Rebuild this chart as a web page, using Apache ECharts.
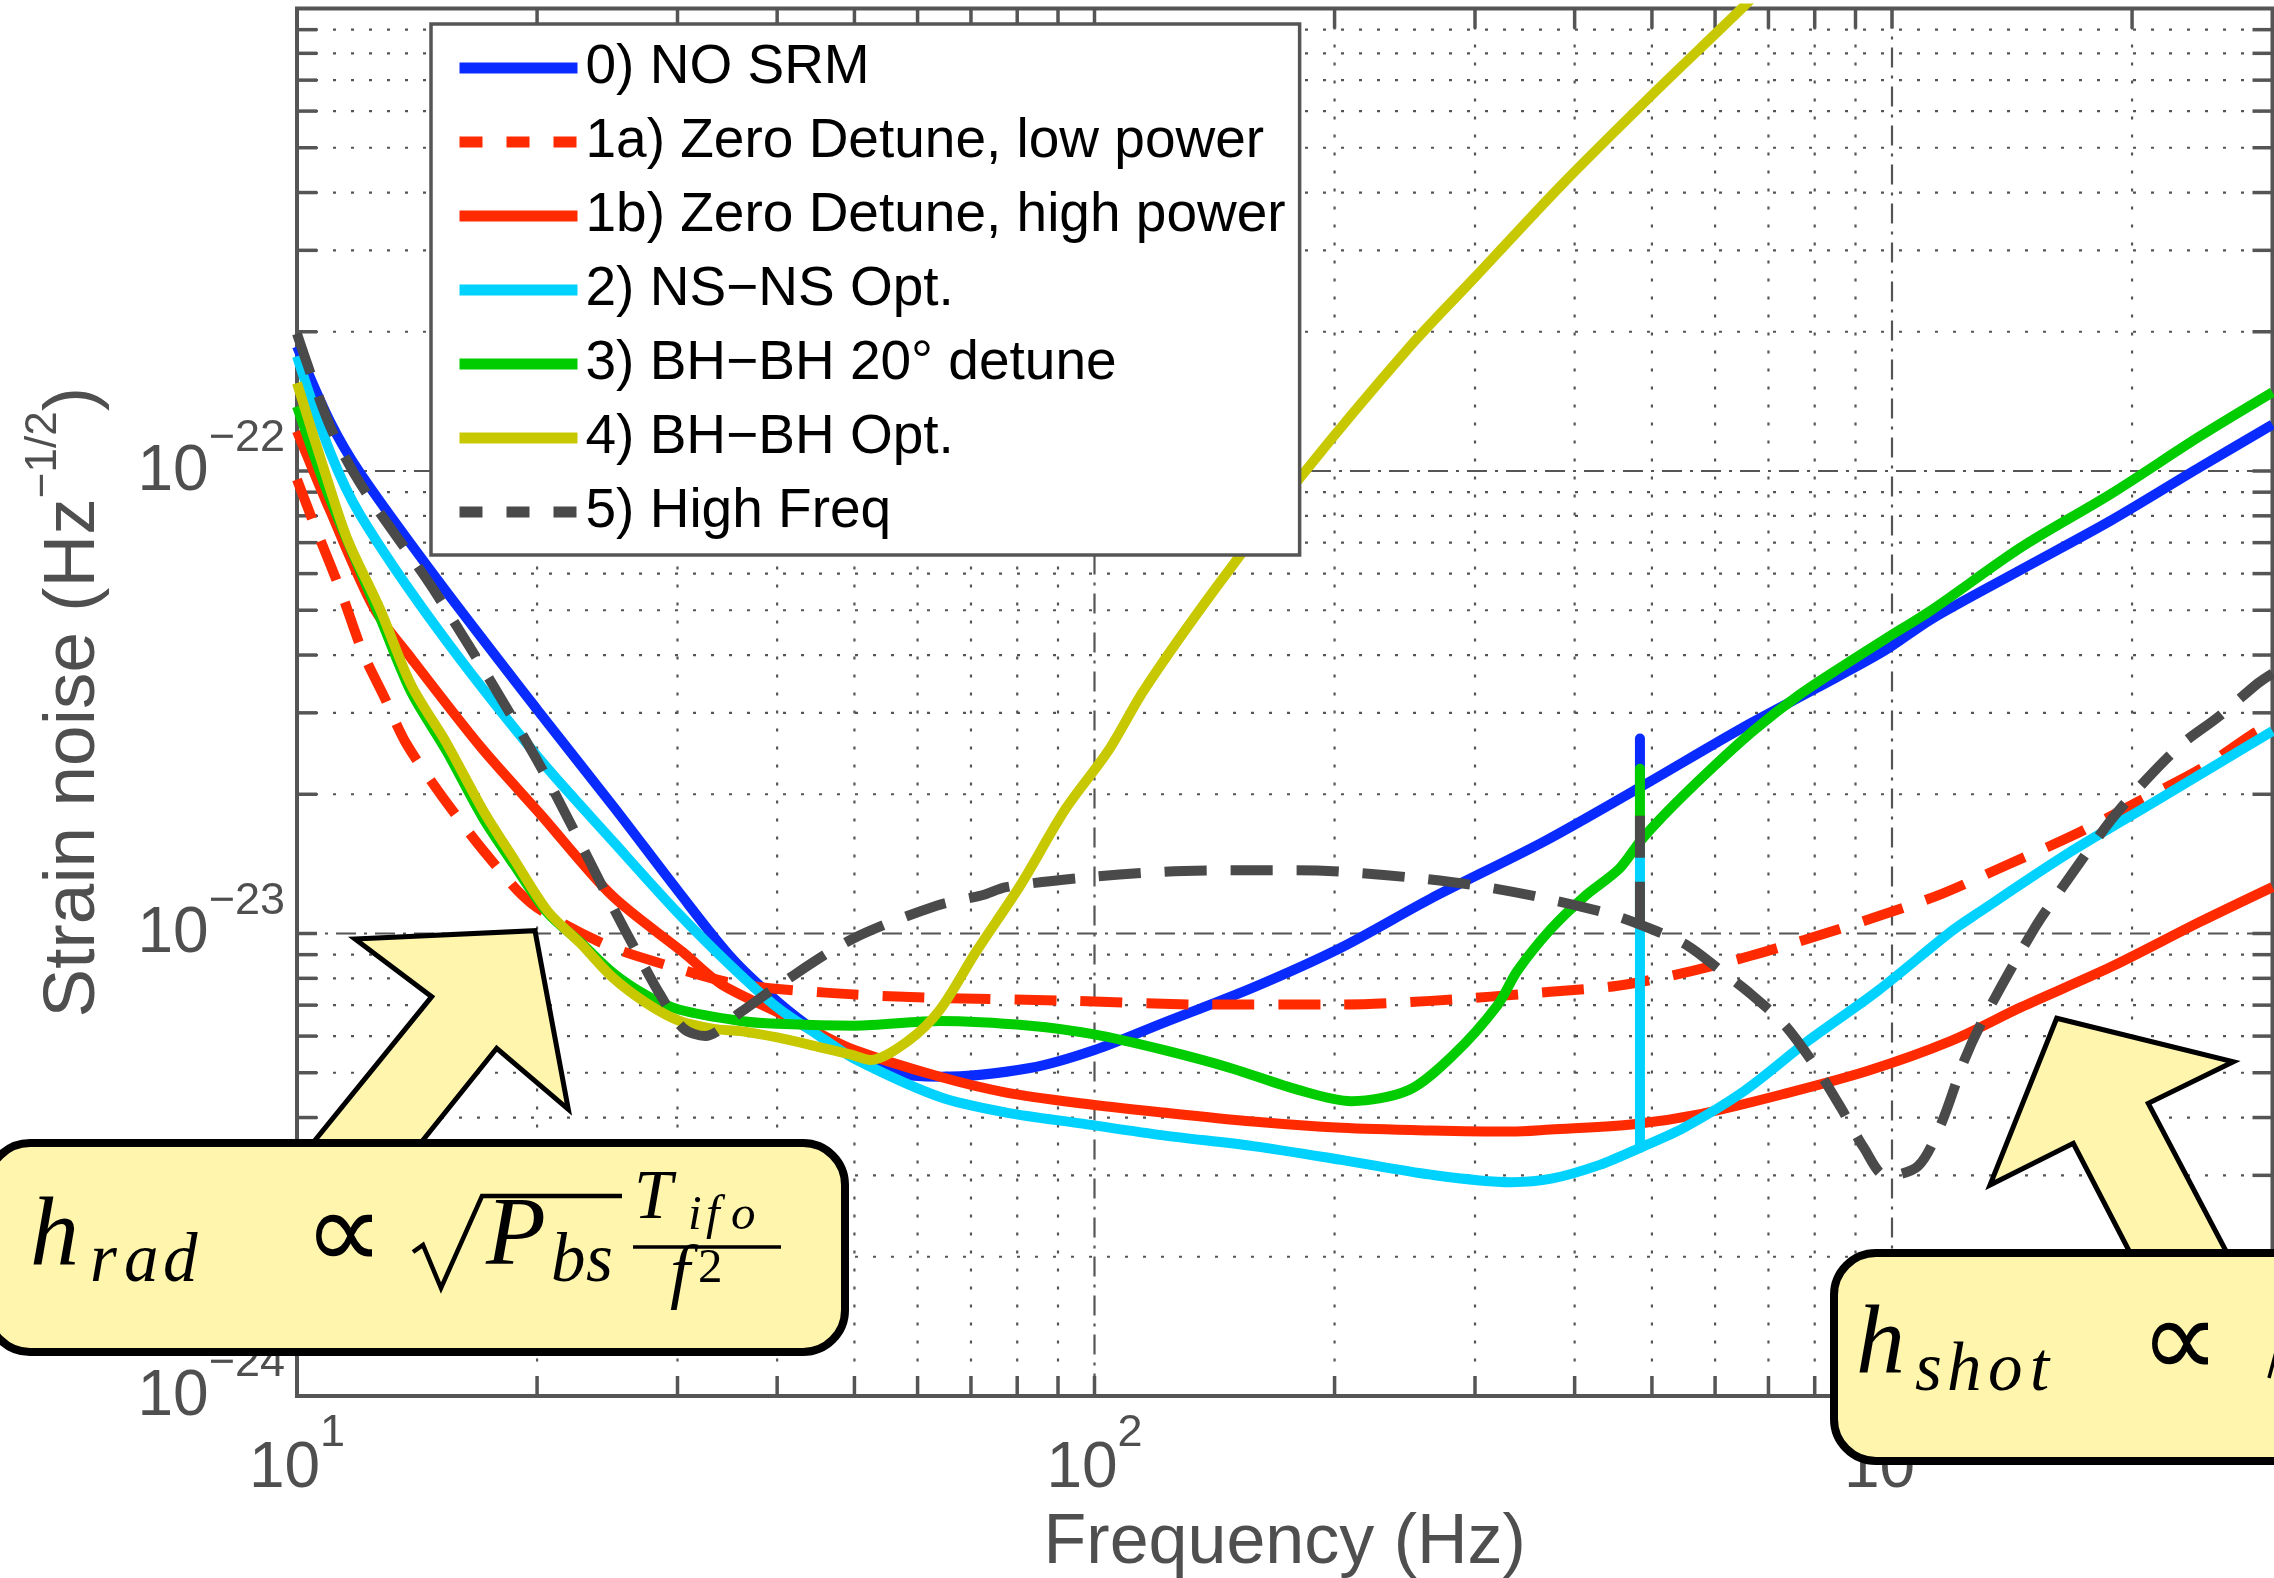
<!DOCTYPE html>
<html>
<head>
<meta charset="utf-8">
<title>Strain noise vs frequency</title>
<script src="https://cdn.jsdelivr.net/npm/echarts@6/dist/echarts.min.js"></script>
<style>
  html, body { margin: 0; padding: 0; background: #ffffff; }
  #chart { width: 2274px; height: 1578px; }
</style>
</head>
<body>
<div id="chart"></div>
<script>
// ---- axis ranges and tick values ----
const X_MIN = 10, X_MAX = 3000;
const Y_MIN = 1e-24, Y_MAX = 1e-21;
const xLabelTicks = [10, 100, 1000];
const yLabelTicks = [1e-24, 1e-23, 1e-22];
const xMajorGrid = [100, 1000];
const xMinorGrid = [20, 30, 40, 50, 60, 70, 80, 90, 200, 300, 400, 500, 600, 700, 800, 900, 2000];
const yMajorGrid = [1e-23, 1e-22];
const yMinorGrid = [2e-24, 3e-24, 4e-24, 5e-24, 6e-24, 7e-24, 8e-24, 9e-24,
                    2e-23, 3e-23, 4e-23, 5e-23, 6e-23, 7e-23, 8e-23, 9e-23,
                    2e-22, 3e-22, 4e-22, 5e-22, 6e-22, 7e-22, 8e-22, 9e-22];

// ---- series names ----
const names = [
  '0) NO SRM',
  '1a) Zero Detune, low power',
  '1b) Zero Detune, high power',
  '2) NS\u2212NS Opt.',
  '3) BH\u2212BH 20\u00b0 detune',
  '4) BH\u2212BH Opt.',
  '5) High Freq'
];

// ---- strain noise curves: [frequency (Hz), strain (1/sqrt(Hz))] ----
const noSrm = [[10,1.86e-22],[11,1.28e-22],[12,9.9e-23],[15,5.82e-23],[20,3.05e-23],[25,1.87e-23],[30,1.24e-23],[35,8.89e-24],[40,7.14e-24],[45,6.1e-24],[50,5.45e-24],[56,5.01e-24],[64,4.9e-24],[83,5.12e-24],[100,5.6e-24],[122,6.41e-24],[158,7.64e-24],[204,9.33e-24],[264,1.19e-23],[366,1.58e-23],[483,2.07e-23],[646,2.77e-23],[806,3.4e-23],[977,4.08e-23],[1122,4.79e-23],[1452,6.12e-23],[1883,7.82e-23],[2435,1.02e-22],[3000,1.26e-22]];
const zeroDetuneLow = [[10,9.59e-23],[10.5,7.69e-23],[11,6.3e-23],[11.4,5.38e-23],[12.1,4.04e-23],[12.85,3.26e-23],[13.7,2.58e-23],[15.2,1.98e-23],[17.3,1.48e-23],[19.7,1.16e-23],[24.2,9.51e-24],[29.3,8.51e-24],[35.6,7.78e-24],[46,7.45e-24],[60,7.28e-24],[94,7.15e-24],[139,7.02e-24],[204,7.02e-24],[264,7.15e-24],[373,7.48e-24],[453,7.71e-24],[548,8.22e-24],[665,8.95e-24],[807,9.89e-24],[977,1.1e-23],[1157,1.22e-23],[1398,1.41e-23],[1687,1.63e-23],[2037,1.93e-23],[2449,2.28e-23],[2825,2.69e-23],[3000,2.85e-23]];
const zeroDetuneHigh = [[10,1.22e-22],[11,8.22e-23],[12.5,5.04e-23],[13.9,3.94e-23],[17,2.53e-23],[20.2,1.81e-23],[24.8,1.21e-23],[30.5,9.1e-24],[34,7.78e-24],[40,6.76e-24],[45,6.1e-24],[50,5.6e-24],[64,4.9e-24],[77.5,4.53e-24],[96.6,4.29e-24],[122,4.1e-24],[158,3.92e-24],[204,3.8e-24],[264,3.75e-24],[333,3.73e-24],[373,3.77e-24],[474,3.87e-24],[575,4.07e-24],[732,4.5e-24],[933,5.05e-24],[1186,5.86e-24],[1452,6.93e-24],[1883,8.47e-24],[2435,1.06e-23],[3000,1.26e-23]];
const nsnsOpt = [[10,1.77e-22],[11,1.1e-22],[12,8.04e-23],[15,4.56e-23],[20,2.42e-23],[25,1.57e-23],[30,1.11e-23],[35,8.51e-24],[40,6.92e-24],[45,6.03e-24],[50,5.36e-24],[64,4.43e-24],[77.5,4.1e-24],[96.6,3.88e-24],[122,3.66e-24],[158,3.47e-24],[204,3.24e-24],[264,3.01e-24],[333,2.9e-24],[374,2.95e-24],[430,3.16e-24],[483,3.44e-24],[548,3.8e-24],[652,4.56e-24],[785,5.86e-24],[960,7.52e-24],[1186,1.01e-23],[1279,1.105e-23],[1652,1.48e-23],[2137,1.93e-23],[3000,2.74e-23]];
const bhbhDetune = [[10,1.38e-22],[11,8.71e-23],[12.7,4.84e-23],[13.9,3.33e-23],[15.4,2.48e-23],[17.1,1.78e-23],[18.7,1.41e-23],[20.6,1.11e-23],[22.7,9.55e-24],[24.9,8.22e-24],[27.5,7.33e-24],[30.2,6.84e-24],[36,6.47e-24],[40,6.38e-24],[50,6.32e-24],[64,6.47e-24],[83,6.32e-24],[100,6.05e-24],[122,5.6e-24],[148,5.12e-24],[180,4.59e-24],[210,4.34e-24],[248,4.59e-24],[282,5.47e-24],[320,6.99e-24],[339,8.3e-24],[373,1.02e-23],[411,1.2e-23],[455,1.38e-23],[483,1.58e-23],[517,1.8e-23],[590,2.25e-23],[671,2.75e-23],[765,3.28e-23],[868,3.79e-23],[982,4.34e-23],[1122,5.01e-23],[1452,6.84e-23],[1883,8.93e-23],[2435,1.19e-22],[3000,1.48e-22]];
const bhbhOpt = [[10,1.55e-22],[11,9.18e-23],[11.6,7.03e-23],[12.7,5.04e-23],[13.9,3.45e-23],[15.4,2.58e-23],[17.1,1.85e-23],[18.7,1.45e-23],[20.6,1.12e-23],[22.7,9.5e-24],[24.9,8.02e-24],[27.5,7.05e-24],[30.2,6.47e-24],[33.3,6.22e-24],[36,6.15e-24],[40,5.96e-24],[45,5.69e-24],[49.5,5.47e-24],[52.4,5.33e-24],[58.4,5.86e-24],[64,6.84e-24],[71,9.12e-24],[80.7,1.27e-23],[92,1.86e-23],[104,2.48e-23],[115.5,3.37e-23],[142,5.59e-23],[182,9.79e-23],[248,1.85e-22],[301,2.64e-22],[386,4.17e-22],[504,6.59e-22],[639,9.77e-22],[720,1.2e-21]];
const highFreq = [[10,1.98e-22],[11,1.25e-22],[12,9.4e-23],[15,5.38e-23],[20,2.37e-23],[24.9,1.14e-23],[26.7,9.08e-24],[28.5,7.4e-24],[30.5,6.24e-24],[32.5,6.0e-24],[36,6.76e-24],[40.4,7.78e-24],[49.7,9.73e-24],[63.5,1.15e-23],[72.3,1.21e-23],[77.5,1.26e-23],[96.6,1.32e-23],[122,1.36e-23],[148,1.37e-23],[179,1.37e-23],[204,1.36e-23],[251,1.32e-23],[301,1.27e-23],[360,1.2e-23],[444,1.1e-23],[508,1.01e-23],[555,9.4e-24],[615,8.22e-24],[665,7.4e-24],[732,6.37e-24],[798,5.22e-24],[863,4.2e-24],[922,3.44e-24],[983,2.99e-24],[1078,3.14e-24],[1152,3.87e-24],[1231,5.3e-24],[1304,6.56e-24],[1511,1.03e-23],[1652,1.29e-23],[1883,1.76e-23],[2083,2.15e-23],[2311,2.57e-23],[2566,2.94e-23],[2879,3.48e-23],[3000,3.65e-23]];

// narrow resonance line near 483 Hz: [frequency, strain] from curve level to peak
const noSrmPeak = [[483,2.07e-23],[483,2.64e-23]];
const nsnsPeak = [[483,3.44e-24],[483,1.55e-23]];
const bhbhDetunePeak = [[483,1.58e-23],[483,2.27e-23]];
const highFreqPeak = [[483,1.05e-23],[483,1.97e-23]];

// ---- styling ----
const SANS = "'Liberation Sans', Arial, Helvetica, sans-serif";
const SERIF = "'Liberation Serif', 'Times New Roman', serif";
const AXIS = '#555555';
const LABEL = '#4f4f4f';
const COLORS = ['#0a2bff', '#ff2a00', '#ff2a00', '#00d2ff', '#00cc00', '#c8c800', '#4a4a4a'];
const LINE_W = 10;
const DASH = [42, 24];
const LEGEND_DASH = [23, 24];
const TICK_LEN = 20;
const MAJOR_GRID_DASH = [20, 8, 3, 8];
const MINOR_GRID_DASH = [3, 15];
const NOTE_FILL = '#fff5ad';
const BASE_SIZE = 64, SUP_SIZE = 45;

const chart = echarts.init(document.getElementById('chart'), null, { renderer: 'canvas' });

const measureCtx = document.createElement('canvas').getContext('2d');
function textWidth(str, size) {
  measureCtx.font = size + 'px ' + SANS;
  return measureCtx.measureText(str).width;
}

function decadeExp(v) {
  const l = Math.log10(v);
  const e = Math.round(l);
  return Math.abs(l - e) < 1e-6 ? e : null;
}

function labelText(str, x, y, size, align) {
  return {
    type: 'text', x: x, y: y,
    style: { text: str, fontSize: size, fontFamily: SANS, fill: LABEL, align: align, verticalAlign: 'middle' }
  };
}

// power-of-ten tick labels, positioned from the axis scale
function renderXLabel(params, api) {
  const cs = params.coordSys;
  const v = api.value(0);
  const x = api.coord([v, Y_MIN])[0];
  const sup = String(decadeExp(v));
  const wb = textWidth('10', BASE_SIZE), ws = textWidth(sup, SUP_SIZE);
  const left = x - (wb + ws) / 2;
  const base = cs.y + cs.height;
  return { type: 'group', children: [
    labelText('10', left, base + 73, BASE_SIZE, 'left'),
    labelText(sup, left + wb, base + 38, SUP_SIZE, 'left')
  ] };
}

function renderYLabel(params, api) {
  const cs = params.coordSys;
  const v = api.value(1);
  const y = api.coord([X_MIN, v])[1];
  const sup = '\u2212' + String(-decadeExp(v));
  const ws = textWidth(sup, SUP_SIZE);
  const right = cs.x - 12;
  return { type: 'group', children: [
    labelText('10', right - ws, y + 1, BASE_SIZE, 'right'),
    labelText(sup, right, y - 32, SUP_SIZE, 'right')
  ] };
}

function renderXGrid(params, api) {
  const cs = params.coordSys;
  const x = api.coord([api.value(0), Y_MIN])[0];
  const major = api.value(2) === 1;
  const top = cs.y, bot = cs.y + cs.height;
  return {
    type: 'group',
    children: [
      { type: 'line', shape: { x1: x, y1: top, x2: x, y2: bot },
        style: { stroke: AXIS, lineWidth: 2.2, lineDash: major ? MAJOR_GRID_DASH : MINOR_GRID_DASH } },
      { type: 'line', shape: { x1: x, y1: bot, x2: x, y2: bot - TICK_LEN }, style: { stroke: AXIS, lineWidth: 3.5 } },
      { type: 'line', shape: { x1: x, y1: top, x2: x, y2: top + TICK_LEN }, style: { stroke: AXIS, lineWidth: 3.5 } }
    ]
  };
}

function renderYGrid(params, api) {
  const cs = params.coordSys;
  const y = api.coord([X_MIN, api.value(1)])[1];
  const major = api.value(2) === 1;
  const left = cs.x, right = cs.x + cs.width;
  return {
    type: 'group',
    children: [
      { type: 'line', shape: { x1: left, y1: y, x2: right, y2: y },
        style: { stroke: AXIS, lineWidth: 2.2, lineDash: major ? MAJOR_GRID_DASH : MINOR_GRID_DASH } },
      { type: 'line', shape: { x1: left, y1: y, x2: left + TICK_LEN, y2: y }, style: { stroke: AXIS, lineWidth: 3.5 } },
      { type: 'line', shape: { x1: right, y1: y, x2: right - TICK_LEN, y2: y }, style: { stroke: AXIS, lineWidth: 3.5 } }
    ]
  };
}

function curve(name, data, color, dashed, z) {
  return {
    name: name, type: 'line', data: data, symbol: 'none', smooth: 0.3,
    lineStyle: { color: color, width: LINE_W, type: dashed ? DASH : 'solid', cap: 'butt', join: 'round' },
    itemStyle: { color: color }, silent: true, z: z
  };
}

function peak(name, data, color, dashed, z) {
  return {
    name: name, type: 'line', data: data, symbol: 'none', smooth: false,
    lineStyle: { color: color, width: LINE_W, type: dashed ? DASH : 'solid', cap: dashed ? 'butt' : 'round' },
    itemStyle: { color: color }, silent: true, z: z
  };
}

// ---- annotation helpers (math glyphs placed by their baseline) ----
function glyph(text, x, baseline, size, italic, family) {
  return {
    type: 'text', x: x, y: baseline - 0.34 * size, z: 120, silent: true,
    style: {
      text: text, fill: '#000000',
      font: (italic ? 'italic ' : '') + size + 'px ' + (family || SERIF),
      align: 'left', verticalAlign: 'middle'
    }
  };
}

const PROP_FONT = "'DejaVu Sans', sans-serif";

const annotations = [
  // left arrow and box
  { type: 'polygon', z: 110, silent: true,
    shape: { points: [[355, 939], [535, 930.7], [568.3, 1109.3], [496.7, 1048.3], [407, 1160], [299, 1160], [431.7, 996.7]] },
    style: { fill: NOTE_FILL, stroke: '#000', lineWidth: 5, lineJoin: 'miter' } },
  { type: 'rect', z: 112, silent: true,
    shape: { x: -12, y: 1143, width: 857, height: 209, r: 42 },
    style: { fill: NOTE_FILL, stroke: '#000', lineWidth: 8 } },
  glyph('h', 30, 1272, 98, true),
  glyph('r', 90, 1286, 69, true),
  glyph('a', 124, 1286, 69, true),
  glyph('d', 163, 1286, 69, true),
  glyph('\u221d', 304, 1278, 112, false, PROP_FONT),
  { type: 'polyline', z: 120, silent: true,
    shape: { points: [[413, 1252], [423, 1245], [441, 1288], [482, 1196], [622, 1196]] },
    style: { stroke: '#000', lineWidth: 4.5, fill: null, lineJoin: 'miter' } },
  glyph('P', 486, 1272, 98, true),
  glyph('b', 551, 1286, 69, true),
  glyph('s', 586, 1286, 69, true),
  glyph('T', 634, 1223, 69, true),
  glyph('i', 688, 1233, 49, true),
  glyph('f', 706, 1233, 49, true),
  glyph('o', 731, 1233, 49, true),
  { type: 'line', z: 120, silent: true, shape: { x1: 633, y1: 1247, x2: 781, y2: 1247 }, style: { stroke: '#000', lineWidth: 3.5 } },
  glyph('f', 670, 1301, 72, true),
  glyph('2', 698, 1286, 49, false),
  // right arrow and box
  { type: 'polygon', z: 110, silent: true,
    shape: { points: [[2056.7, 1018.3], [2233.3, 1061.7], [2148.3, 1103.3], [2236, 1270], [2139, 1270], [2073.3, 1143.3], [1990, 1185]] },
    style: { fill: NOTE_FILL, stroke: '#000', lineWidth: 5, lineJoin: 'miter' } },
  { type: 'rect', z: 112, silent: true,
    shape: { x: 1834, y: 1253, width: 600, height: 208, r: 42 },
    style: { fill: NOTE_FILL, stroke: '#000', lineWidth: 8 } },
  glyph('h', 1856, 1380, 98, true),
  glyph('s', 1915, 1395, 69, true),
  glyph('h', 1947, 1395, 69, true),
  glyph('o', 1988, 1395, 69, true),
  glyph('t', 2030, 1395, 69, true),
  glyph('\u221d', 2140, 1386, 112, false, PROP_FONT),
  { type: 'line', z: 120, silent: true, shape: { x1: 2269, y1: 1378, x2: 2276, y2: 1352 }, style: { stroke: '#000', lineWidth: 3.5 } }
];

const legendData = names.map((n, i) => (i === 1 || i === 6)
  ? { name: n, lineStyle: { type: LEGEND_DASH } }
  : { name: n });

const option = {
  animation: false,
  backgroundColor: '#ffffff',
  grid: {
    left: 297, right: 1.5, top: 8.5, bottom: 182,
    show: true, borderColor: AXIS, borderWidth: 4, backgroundColor: 'transparent',
    containLabel: false, outerBoundsMode: 'none'
  },
  xAxis: {
    type: 'log', logBase: 10, min: X_MIN, max: X_MAX,
    axisLine: { show: false }, axisTick: { show: false }, splitLine: { show: false }, minorTick: { show: false },
    axisLabel: { show: false },
    name: 'Frequency (Hz)', nameLocation: 'middle', nameGap: 113, nameMoveOverlap: false,
    nameTextStyle: { fontSize: 70, lineHeight: 70, color: LABEL, fontFamily: SANS }
  },
  yAxis: {
    type: 'log', logBase: 10, min: Y_MIN, max: Y_MAX,
    axisLine: { show: false }, axisTick: { show: false }, splitLine: { show: false }, minorTick: { show: false },
    axisLabel: { show: false },
    name: '{b|Strain noise (Hz}{s|\u22121/2}{b|)}', nameLocation: 'middle', nameRotate: 90, nameGap: 202, nameMoveOverlap: false,
    nameTextStyle: {
      color: LABEL, fontFamily: SANS,
      rich: {
        b: { fontSize: 73, lineHeight: 73, padding: [15, 0, 0, 0], verticalAlign: 'top', fontFamily: SANS, color: LABEL },
        s: { fontSize: 44, lineHeight: 44, verticalAlign: 'top', fontFamily: SANS, color: LABEL }
      }
    }
  },
  legend: {
    orient: 'vertical', left: 431, top: 24,
    padding: [14, 14, 13, 23], itemGap: 14, itemWidth: 118, itemHeight: 14,
    backgroundColor: '#ffffff', borderColor: AXIS, borderWidth: 3.5, borderRadius: 0,
    selectedMode: false,
    textStyle: { fontSize: 55, lineHeight: 60, color: '#000000', fontFamily: SANS, padding: [0, 0, 0, 3] },
    lineStyle: { width: 11, cap: 'butt' },
    itemStyle: { opacity: 0 },
    data: legendData
  },
  graphic: annotations,
  series: [
    { type: 'custom', name: 'xgrid', silent: true, z: 1, clip: false, renderItem: renderXGrid,
      encode: { x: 0, y: 1 },
      data: xMajorGrid.map(v => [v, Y_MIN, 1]).concat(xMinorGrid.map(v => [v, Y_MIN, 0])) },
    { type: 'custom', name: 'ygrid', silent: true, z: 1, clip: false, renderItem: renderYGrid,
      encode: { x: 0, y: 1 },
      data: yMajorGrid.map(v => [X_MIN, v, 1]).concat(yMinorGrid.map(v => [X_MIN, v, 0])) },
    { type: 'custom', name: 'xlabels', silent: true, z: 5, clip: false, renderItem: renderXLabel,
      encode: { x: 0, y: 1 }, data: xLabelTicks.map(v => [v, Y_MIN]) },
    { type: 'custom', name: 'ylabels', silent: true, z: 5, clip: false, renderItem: renderYLabel,
      encode: { x: 0, y: 1 }, data: yLabelTicks.map(v => [X_MIN, v]) },
    curve(names[0], noSrm, COLORS[0], false, 3),
    peak('peak0', noSrmPeak, COLORS[0], false, 3),
    curve(names[1], zeroDetuneLow, COLORS[1], true, 3),
    curve(names[2], zeroDetuneHigh, COLORS[2], false, 3),
    curve(names[3], nsnsOpt, COLORS[3], false, 3),
    peak('peak3', nsnsPeak, COLORS[3], false, 3),
    curve(names[4], bhbhDetune, COLORS[4], false, 3),
    peak('peak4', bhbhDetunePeak, COLORS[4], false, 3),
    curve(names[5], bhbhOpt, COLORS[5], false, 3),
    curve(names[6], highFreq, COLORS[6], true, 3),
    peak('peak6', highFreqPeak, COLORS[6], true, 3)
  ]
};

chart.setOption(option);
</script>
</body>
</html>
